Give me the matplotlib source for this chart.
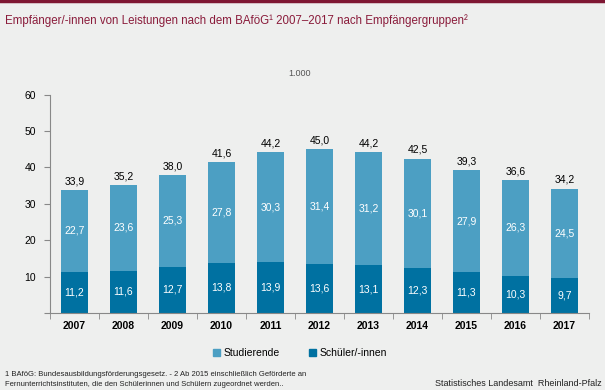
import numpy as np
import matplotlib.pyplot as plt
from matplotlib.patches import Patch

plt.rcParams['font.family'] = ['Liberation Sans', 'DejaVu Sans']

years = ['2007', '2008', '2009', '2010', '2011', '2012', '2013', '2014', '2015', '2016', '2017']
schueler = [11.2, 11.6, 12.7, 13.8, 13.9, 13.6, 13.1, 12.3, 11.3, 10.3, 9.7]
studierende = [22.7, 23.6, 25.3, 27.8, 30.3, 31.4, 31.2, 30.1, 27.9, 26.3, 24.5]
totals = [33.9, 35.2, 38.0, 41.6, 44.2, 45.0, 44.2, 42.5, 39.3, 36.6, 34.2]

bg = '#eeefee'
c_stud = '#4c9fc3'
c_sch = '#0071a1'
red = '#8a1c3b'

def fmt(v):
    return f"{v:.1f}".replace('.', ',')

fig = plt.figure(figsize=(6.05, 3.9), dpi=100, facecolor=bg)
ax = fig.add_axes([50 / 605, 77 / 390, 539 / 605, 218.3 / 390])
ax.set_facecolor(bg)

x = np.arange(len(years))
w = 0.57
ax.bar(x, schueler, width=w, color=c_sch, zorder=2)
ax.bar(x, studierende, width=w, bottom=schueler, color=c_stud, zorder=2)

for i in range(len(years)):
    ax.text(x[i], schueler[i] / 2, fmt(schueler[i]), ha='center', va='center',
            color='white', fontsize=7.5)
    ax.text(x[i], schueler[i] + studierende[i] / 2, fmt(studierende[i]), ha='center',
            va='center', color='white', fontsize=7.5)
    ax.text(x[i], totals[i] + 1.0, fmt(totals[i]), ha='center', va='bottom',
            color='black', fontsize=7.5)

ax.set_xlim(-0.5, len(years) - 0.5)
ax.set_ylim(0, 60)
ax.set_yticks(range(0, 61, 10))
ax.set_yticklabels(['', '10', '20', '30', '40', '50', '60'], fontsize=7.5)
ax.set_xticks(x)
ax.set_xticklabels(years, fontsize=7.5, fontweight='bold')
ax.set_xticks(np.arange(-0.5, len(years)), minor=True)
ax.tick_params(axis='x', which='major', length=0, pad=6)
ax.tick_params(axis='x', which='minor', length=4, color='#888888')
ax.tick_params(axis='y', length=4, color='#888888', pad=6)
for s in ['top', 'right']:
    ax.spines[s].set_visible(False)
for s in ['left', 'bottom']:
    ax.spines[s].set_color('#888888')
    ax.spines[s].set_linewidth(0.8)

# top border line
fig.add_artist(plt.Line2D([0, 1], [0.997, 0.997], color='#7e1733', linewidth=2.5))
fig.text(5 / 605, 1 - 21 / 390, 'Empfänger/-innen von Leistungen nach dem BAföG¹ 2007–2017 nach Empfängergruppen²',
         color=red, fontsize=8.3, va='center', ha='left')
fig.text(300 / 605, 1 - 73 / 390, '1.000', color='#555555', fontsize=6.5, ha='center', va='center')

handles = [Patch(color=c_stud, label='Studierende'), Patch(color=c_sch, label='Schüler/-innen')]
fig.legend(handles=handles, loc='center', bbox_to_anchor=(300 / 605, 1 - 353 / 390), ncol=2,
           frameon=False, fontsize=7.5, handlelength=0.7, handleheight=0.7,
           handletextpad=0.3, columnspacing=2.8)

fig.text(5 / 605, 1 - 374 / 390,
         '1 BAföG: Bundesausbildungsförderungsgesetz. - 2 Ab 2015 einschließlich Geförderte an',
         fontsize=5.5, va='center', ha='left', color='#222222')
fig.text(5 / 605, 1 - 384 / 390,
         'Fernunterrichtsinstituten, die den Schülerinnen und Schülern zugeordnet werden..',
         fontsize=5.5, va='center', ha='left', color='#222222')
fig.text(602 / 605, 1 - 384 / 390, 'Statistisches Landesamt  Rheinland-Pfalz',
         fontsize=6.5, va='center', ha='right', color='#222222')

fig.savefig('out.png', dpi=100, facecolor=bg)
